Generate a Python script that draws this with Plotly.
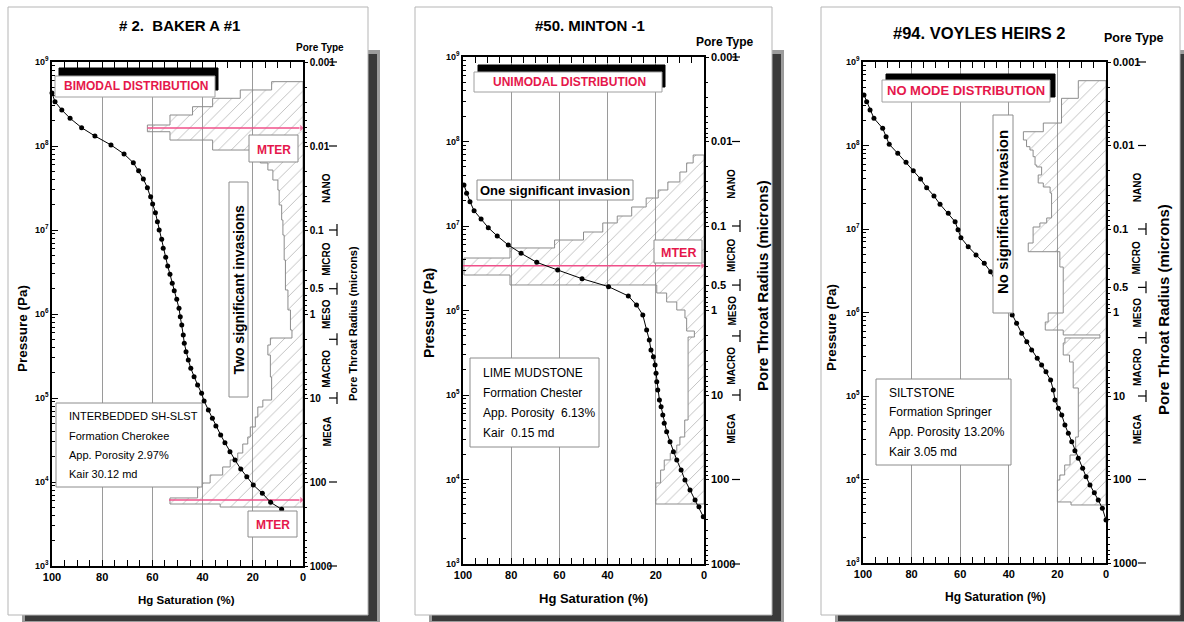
import math
import plotly.graph_objects as go

W, H = 1184, 622
NARROW = "Liberation Sans Narrow, Liberation Sans, Arial"
SANS = "Liberation Sans, Arial"
RED = "#e5174b"
PINK = "#f0508a"

# ---------------- data ----------------
sat_ticks = [100, 80, 60, 40, 20, 0]
pressure_exp = [3, 4, 5, 6, 7, 8, 9]
radius_ticks = [0.001, 0.01, 0.1, 0.5, 1, 10, 100, 1000]
radius_labels = ["0.001", "0.01", "0.1", "0.5", "1", "10", "100", "1000"]
pore_types = ["NANO", "MICRO", "MESO", "MACRO", "MEGA"]
pore_type_centers = [0.0316, 0.22, 1.0, 4.5, 25]      # microns
pore_type_bounds = [0.1, 0.5, 2, 10]
bracket_ticks = [0.001, 0.01, 0.1, 0.5, 2, 10, 100, 1000]

titles = ["# 2.  BAKER A #1", "#50. MINTON -1", "#94. VOYLES HEIRS 2"]
distributions = ["BIMODAL DISTRIBUTION", "UNIMODAL DISTRIBUTION", "NO MODE DISTRIBUTION"]
invasion_notes = ["Two significant invasions", "One significant invasion", "No significant invasion"]
sample_info = [
    ["INTERBEDDED SH-SLST", "Formation Cherokee", "App. Porosity 2.97%", "Kair 30.12 md"],
    ["LIME MUDSTONE", "Formation Chester", "App. Porosity  6.13%", "Kair  0.15 md"],
    ["SILTSTONE", "Formation Springer", "App. Porosity 13.20%", "Kair 3.05 md"],
]

# Panel 1 capillary pressure curve (Hg saturation %, log10 pressure Pa)
p1_sat = [100, 98.8, 96.1, 92.8, 88.2, 82.9, 76.5, 71.3, 67.6, 65.5, 63.6, 62.0, 60.7, 59.9, 58.8,
          58.0, 57.3, 56.3, 55.7, 54.7, 53.9, 53.0, 52.1, 51.3, 50.3, 49.4, 48.9, 48.3, 47.7, 47.3,
          46.6, 45.7, 44.7, 43.4, 42.0, 40.4, 39.4, 37.7, 36.1, 34.7, 32.8, 31.1, 29.1, 27.1, 24.8,
          22.4, 19.8, 16.2, 12.9, 8.5]
p1_logp = [8.63, 8.527, 8.429, 8.33, 8.218, 8.119, 8.012, 7.905, 7.801, 7.706, 7.607, 7.504, 7.397,
           7.31, 7.206, 7.099, 7.0, 6.889, 6.782, 6.675, 6.571, 6.473, 6.365, 6.277, 6.175, 6.068,
           5.968, 5.869, 5.75, 5.651, 5.551, 5.452, 5.353, 5.254, 5.155, 5.056, 4.964, 4.857, 4.758,
           4.667, 4.56, 4.468, 4.361, 4.262, 4.155, 4.063, 3.964, 3.865, 3.758, 3.675]
# Panel 1 pore-throat histogram (bin edges in log10 Pa, bar lengths in %)
p1_hist_logp = [8.766, 8.667, 8.568, 8.468, 8.369, 8.25, 8.170, 8.071, 7.952, 7.857, 7.798, 7.714,
                7.595, 7.476, 7.298, 7.119, 6.940, 6.643, 6.286, 6.048, 5.810, 5.714, 5.631, 5.512,
                5.250, 4.976, 4.893, 4.774, 4.655, 4.536, 4.452, 4.345, 4.262, 4.179, 4.083, 3.988,
                3.810, 3.738, 3.702]
p1_hist_sat = [12.5, 25, 36, 44, 53, 62, 53, 36, 21, 17, 14, 12, 10, 9.5, 8.5, 8, 7.5, 7, 6, 5, 4.4,
               13, 14, 13, 12.5, 16, 18, 19, 21, 22, 24, 26, 29, 32, 37, 42, 53, 33]
p1_mter_logp = [8.214, 3.786]
p1_mter_from = [62, 53.4]

# Panel 2
p2_sat = [99.6, 98.5, 97.1, 95.4, 92.5, 89.5, 85.8, 81.2, 75.9, 69.4, 60.7, 50.6, 39.6, 31.4, 28.0,
          25.4, 23.8, 22.7, 22.0, 21.0, 20.3, 19.9, 19.6, 19.2, 18.5, 17.8, 17.1, 16.5, 15.5, 14.1,
          12.7, 11.3, 9.5, 7.9, 5.8, 3.7, 2.1, 0.3]
p2_logp = [7.485, 7.387, 7.288, 7.181, 7.083, 6.98, 6.882, 6.775, 6.677, 6.57, 6.479, 6.376, 6.282,
           6.172, 6.065, 5.947, 5.769, 5.651, 5.533, 5.453, 5.355, 5.256, 5.157, 5.059, 4.941, 4.862,
           4.763, 4.665, 4.566, 4.447, 4.329, 4.231, 4.112, 3.994, 3.876, 3.757, 3.678, 3.56]
p2_hist_logp = [7.840, 7.746, 7.639, 7.521, 7.426, 7.331, 7.225, 7.118, 7.036, 6.929, 6.834, 6.740,
                6.621, 6.420, 6.302, 6.207, 6.101, 6.006, 5.911, 5.757, 5.686, 4.704, 4.503, 4.408,
                4.314, 4.231, 4.112, 3.959, 3.710]
p2_hist_sat = [4.5, 7.2, 10, 15, 19, 24, 30, 36, 42, 50, 62, 80.5, 99.6, 80.5, 19.6, 15.5, 11.3, 7.9,
               7.2, 4, 6.6, 8, 10, 11.3, 14, 16.5, 18, 20]
p2_mter_logp = [6.53]
p2_mter_from = [100]

# Panel 3
p3_sat = [99.6, 98.5, 97.1, 95.5, 91.9, 90.5, 89.2, 85.7, 82.3, 79.3, 76.3, 73.8, 70.8, 68.3, 64.9,
          62.1, 60.9, 59.7, 56.7, 53.5, 50.1, 47.5, 38.6, 36.8, 34.7, 32.6, 30.6, 28.3, 26.5, 24.7,
          22.8, 21.7, 21.0, 19.6, 18.2, 16.9, 15.5, 14.1, 12.8, 11.4, 9.6, 8.2, 6.6, 4.8, 3.2, 1.5, 0]
p3_logp = [8.605, 8.525, 8.425, 8.326, 8.206, 8.106, 8.014, 7.906, 7.799, 7.698, 7.599, 7.495, 7.395,
           7.296, 7.188, 7.087, 6.992, 6.896, 6.788, 6.689, 6.589, 6.489, 5.97, 5.871, 5.751, 5.65,
           5.551, 5.451, 5.371, 5.291, 5.192, 5.072, 4.952, 4.853, 4.772, 4.653, 4.553, 4.453, 4.345,
           4.254, 4.134, 4.034, 3.934, 3.842, 3.754, 3.655, 3.515]
p3_hist_logp = [8.776, 8.565, 8.269, 8.165, 8.066, 7.986, 7.946, 7.866, 7.766, 7.743, 7.647, 7.551,
                7.503, 7.431, 7.132, 7.072, 7.024, 6.832, 6.728, 6.545, 5.994, 5.886, 5.790, 5.731,
                5.695, 5.635, 5.491, 5.407, 5.096, 4.509, 4.293, 4.174, 4.054, 3.994, 3.731, 3.695]
p3_hist_sat = [11.4, 18.3, 25.8, 34, 32.7, 31.3, 30, 29.2, 28.5, 26.5, 27.9, 25.8, 23, 22.4, 24.4,
               27.2, 30, 32, 19, 17.6, 23.8, 25, 17.6, 2.5, 16.9, 17.6, 15, 13.5, 11.4, 12.5, 14.8,
               17, 19, 20, 14.4]
p3_mter_logp = []
p3_mter_from = []

# ---------------- layout geometry (pixels) ----------------
panels = [
    dict(box=(52, 62, 303, 566), card=(8, 7, 368, 615), sat=p1_sat, logp=p1_logp,
         hl=p1_hist_logp, hs=p1_hist_sat, ml=p1_mter_logp, mf=p1_mter_from,
         title=(179, 25, 15), pore=(320, 47, 10), dist_black=(59, 68, 218, 90), dist_white=(55, 76, 215, 97),
         dist_txt=(136, 86, 12), inv_box=(229, 182, 248, 397), inv_txt=(238.5, 290, 14, -90, SANS),
         mter_boxes=[(249, 135, 298, 162), (248, 511, 297, 537)], mter_font=12,
         info_box=(56, 403, 202, 487), info_x=67, info_y=[416, 436, 455, 474], info_font=11,
         ytitle=(22, 329, 13.5), rtitle=(353, 324, 11), xtitle=(186, 600, 11.5),
         br_off=34, lab_off=24, rfont=10),
    dict(box=(463, 57, 704, 564), card=(415, 7, 772, 615), sat=p2_sat, logp=p2_logp,
         hl=p2_hist_logp, hs=p2_hist_sat, ml=p2_mter_logp, mf=p2_mter_from,
         title=(590, 25, 15), pore=(725, 42, 12), dist_black=(478, 65, 665, 87), dist_white=(474, 72, 662, 92),
         dist_txt=(569, 82, 12), inv_box=(477, 180, 633, 200), inv_txt=(555, 190.5, 13, 0, SANS),
         mter_boxes=[(654, 240, 702, 263)], mter_font=12.5,
         info_box=(470, 358, 599, 447), info_x=481, info_y=[373, 393, 413, 433], info_font=12,
         ytitle=(429, 313, 14), rtitle=(762, 285, 15), xtitle=(593, 598, 13),
         br_off=36, lab_off=28, rfont=11),
    dict(box=(863, 62, 1106, 563), card=(821, 7, 1180, 615), sat=p3_sat, logp=p3_logp,
         hl=p3_hist_logp, hs=p3_hist_sat, ml=p3_mter_logp, mf=p3_mter_from,
         title=(979, 33, 16.5), pore=(1134, 38, 12.5), dist_black=(886, 74, 1055, 97), dist_white=(882, 80, 1050, 102),
         dist_txt=(966, 91, 13), inv_box=(993, 115, 1013, 313), inv_txt=(1003, 212, 15, -90, SANS),
         mter_boxes=[], mter_font=12,
         info_box=(876, 379, 1011, 465), info_x=887, info_y=[393, 412, 432, 452], info_font=12,
         ytitle=(832, 328, 13.5), rtitle=(1163, 310, 15), xtitle=(995, 597, 12),
         br_off=40, lab_off=31, rfont=11),
]


def px(x):
    return x / W


def py(y):
    return 1 - y / H


def rect(x0, y0, x1, y1, fill="white", line="#999999", lw=1, layer="above"):
    return dict(type="rect", xref="paper", yref="paper", x0=px(x0), x1=px(x1), y0=py(y1), y1=py(y0),
                fillcolor=fill, line=dict(color=line, width=lw), layer=layer)


def seg(x0, y0, x1, y1, color="black", lw=1.2):
    return dict(type="line", xref="paper", yref="paper", x0=px(x0), x1=px(x1), y0=py(y0), y1=py(y1),
                line=dict(color=color, width=lw), layer="above")


def ann(x, y, text, size, color="black", family=NARROW, bold=True, angle=0, xanchor="center", yanchor="middle"):
    return dict(x=px(x), y=py(y), xref="paper", yref="paper", text=text, showarrow=False,
                textangle=angle, xanchor=xanchor, yanchor=yanchor,
                font=dict(family=family, size=size, color=color, weight="bold" if bold else "normal"))


fig = go.Figure()
shapes, annotations = [], []
layout = dict(width=W, height=H, margin=dict(l=0, r=0, t=0, b=0, pad=0, autoexpand=False),
              paper_bgcolor="white", plot_bgcolor="rgba(0,0,0,0)", showlegend=False)

for i, p in enumerate(panels):
    xname = "x" if i == 0 else f"x{i+1}"
    xkey = "xaxis" if i == 0 else f"xaxis{i+1}"
    ln, rn = 2 * i + 1, 2 * i + 2
    yl = "y" if ln == 1 else f"y{ln}"
    ylkey = "yaxis" if ln == 1 else f"yaxis{ln}"
    yr = f"y{rn}"
    yrkey = f"yaxis{rn}"
    x0, y0, x1, y1 = p["box"]

    layout[xkey] = dict(domain=[px(x0), px(x1)], range=[100, 0], anchor=yl, tickmode="array",
                        tickvals=sat_ticks, ticks="inside", ticklen=6, tickcolor="black",
                        minor=dict(tickmode="linear", tick0=0, dtick=5, ticks="inside", ticklen=4,
                                   tickcolor="black", showgrid=False),
                        showgrid=True, gridcolor="#9a9a9a", gridwidth=1, showline=True,
                        linecolor="black", linewidth=1.5, mirror="allticks", zeroline=False,
                        automargin=False,
                        tickfont=dict(family=NARROW, size=11, color="black", weight="bold"))
    layout[ylkey] = dict(domain=[py(y1), py(y0)], type="log", range=[3, 9], anchor=xname,
                         tickmode="array", tickvals=[10 ** e for e in pressure_exp],
                         ticktext=[f"10<sup>{e}</sup>" for e in pressure_exp],
                         ticks="inside", ticklen=6, tickcolor="black",
                         minor=dict(dtick="D1", ticks="inside", ticklen=3, tickcolor="black", showgrid=False),
                         showgrid=False, showline=True, linecolor="black", linewidth=1.5, zeroline=False,
                         automargin=False,
                         tickfont=dict(family=NARROW, size=9, color="black", weight="bold"))
    layout[yrkey] = dict(domain=[py(y1), py(y0)], type="log", range=[3, -3], anchor=xname,
                         overlaying=yl, side="right", tickmode="array", tickvals=radius_ticks,
                         ticktext=radius_labels, ticks="outside", ticklen=3, tickcolor="black",
                         minor=dict(dtick="D1", ticks="outside", ticklen=2, tickcolor="black", showgrid=False),
                         showgrid=False, showline=True, linecolor="black", linewidth=1.5, zeroline=False,
                         automargin=False,
                         tickfont=dict(family=NARROW, size=p["rfont"], color="black", weight="bold"))

    # histogram polygon
    hl, hs = p["hl"], p["hs"]
    hx, hy = [0], [10 ** hl[0]]
    for k, w in enumerate(hs):
        hx += [w, w]
        hy += [10 ** hl[k], 10 ** hl[k + 1]]
    hx += [0, 0]
    hy += [10 ** hl[-1], 10 ** hl[0]]
    fig.add_trace(go.Scatter(x=hx, y=hy, mode="lines", xaxis=xname, yaxis=yl, fill="toself",
                             fillcolor="rgba(0,0,0,0)", line=dict(color="#8c8c8c", width=1),
                             fillpattern=dict(shape="/", fgcolor="#777777", bgcolor="rgba(0,0,0,0)",
                                              size=9, solidity=0.1),
                             hoverinfo="skip"))
    # MTER lines
    for lp, xf in zip(p["ml"], p["mf"]):
        fig.add_trace(go.Scatter(x=[xf, 0.6], y=[10 ** lp, 10 ** lp], mode="lines+markers",
                                 xaxis=xname, yaxis=yl, line=dict(color=PINK, width=1.5),
                                 marker=dict(symbol=["circle", "triangle-right"], size=[0, 7], color=PINK),
                                 cliponaxis=False, hoverinfo="skip"))
    # capillary curve
    fig.add_trace(go.Scatter(x=p["sat"], y=[10 ** v for v in p["logp"]], mode="lines+markers",
                             xaxis=xname, yaxis=yl, line=dict(color="black", width=1),
                             marker=dict(color="black", size=5), cliponaxis=False, hoverinfo="skip"))
    # dummy trace so right axis is drawn
    fig.add_trace(go.Scatter(x=[None], y=[None], xaxis=xname, yaxis=yr, hoverinfo="skip"))

    # card and shadow
    cx0, cy0, cx1, cy1 = p["card"]
    shapes.append(rect(cx0 + 14, 50, cx1 + 12, 622, fill="#9c9c9c", line="rgba(0,0,0,0)", lw=0, layer="below"))
    shapes.append(rect(cx0 + 17, 54, cx1 + 9, 621, fill="#3a3a3a", line="rgba(0,0,0,0)", lw=0, layer="below"))
    shapes.append(rect(cx0, cy0, cx1, cy1, fill="white", line="#b5b5b5", lw=1, layer="below"))

    # text boxes
    shapes.append(rect(*p["dist_black"], fill="black", line="black", lw=1))
    shapes.append(rect(*p["dist_white"], fill="white", line="#a0a0a0", lw=1))
    shapes.append(rect(*p["inv_box"], fill="white", line="#8c8c8c", lw=1))
    for b in p["mter_boxes"]:
        shapes.append(rect(*b, fill="white", line="#8c8c8c", lw=1))
    shapes.append(rect(*p["info_box"], fill="white", line="#8c8c8c", lw=1))

    # pore-type bracket
    def yr_px(r):
        return y0 + (math.log10(r) + 3) / 6 * (y1 - y0)
    bx = x1 + p["br_off"]
    for r in bracket_ticks:
        shapes.append(seg(bx - 8, yr_px(r), bx, yr_px(r)))
    for r in pore_type_bounds:
        shapes.append(seg(bx, yr_px(r) - 6, bx, yr_px(r) + 6))
    for name, c in zip(pore_types, pore_type_centers):
        annotations.append(ann(x1 + p["lab_off"], yr_px(c), name, 10, angle=-90))

    tx, ty, ts = p["title"]
    annotations.append(ann(tx, ty, titles[i], ts))
    tx, ty, ts = p["pore"]
    annotations.append(ann(tx, ty, "Pore Type", ts))
    tx, ty, ts = p["dist_txt"]
    annotations.append(ann(tx, ty, distributions[i], ts, color=RED))
    tx, ty, ts, ta, tf = p["inv_txt"]
    annotations.append(ann(tx, ty, invasion_notes[i], ts, family=tf, angle=ta))
    for b in p["mter_boxes"]:
        annotations.append(ann((b[0] + b[2]) / 2, (b[1] + b[3]) / 2 + 1, "MTER", p["mter_font"], color=RED))
    for line_txt, ly in zip(sample_info[i], p["info_y"]):
        annotations.append(ann(p["info_x"], ly, line_txt, p["info_font"], bold=False, xanchor="left"))
    tx, ty, ts = p["ytitle"]
    annotations.append(ann(tx, ty, "Pressure (Pa)", ts, family=SANS, angle=-90))
    tx, ty, ts = p["rtitle"]
    annotations.append(ann(tx, ty, "Pore Throat Radius (microns)", ts, family=SANS, angle=-90))
    tx, ty, ts = p["xtitle"]
    annotations.append(ann(tx, ty, "Hg Saturation (%)", ts))

layout["shapes"] = shapes
layout["annotations"] = annotations
fig.update_layout(**layout)
fig.write_html("out.html")
